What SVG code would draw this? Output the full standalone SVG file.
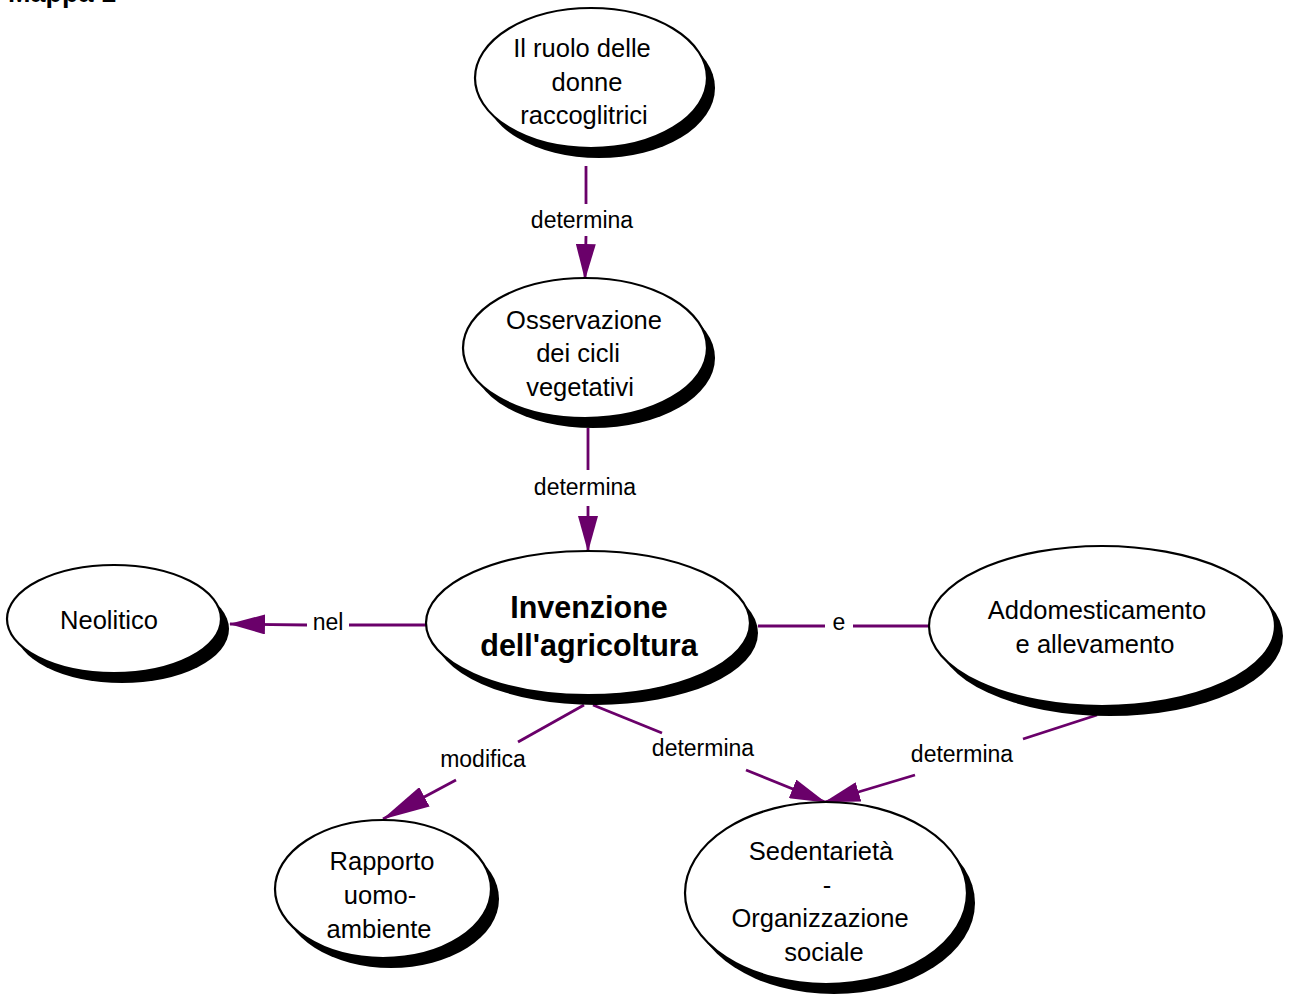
<svg xmlns="http://www.w3.org/2000/svg" width="1289" height="998" viewBox="0 0 1289 998">
<defs>
<style>
.sh{fill:#000}
.nd{fill:#fff;stroke:#000;stroke-width:2.2}
.t{font-family:"Liberation Sans",Arial,sans-serif;font-size:25.5px;fill:#000;text-anchor:middle}
.tb{font-family:"Liberation Sans",Arial,sans-serif;font-size:30.5px;font-weight:bold;fill:#000;text-anchor:middle}
.lb{font-family:"Liberation Sans",Arial,sans-serif;font-size:23px;fill:#000;text-anchor:middle}
.c{stroke:#6a006a;stroke-width:2.8;fill:none}
</style>
<marker id="ah" viewBox="0 0 36 20" refX="35" refY="10" markerWidth="36" markerHeight="20" markerUnits="userSpaceOnUse" orient="auto">
<path d="M0,0 L36,10 L0,20 Z" fill="#6a006a"/>
</marker>
<marker id="ahl" viewBox="0 0 48 22" refX="47" refY="11" markerWidth="48" markerHeight="22" markerUnits="userSpaceOnUse" orient="auto">
<path d="M0,0 L48,11 L0,22 Z" fill="#6a006a"/>
</marker>
</defs>
<rect width="1289" height="998" fill="#fff"/>
<text x="8" y="2" font-family="Liberation Sans, Arial, sans-serif" font-size="27" font-weight="bold">Mappa 1</text>

<g id="connectors">
<line class="c" x1="586" y1="166" x2="586" y2="204"/>
<line class="c" x1="586" y1="236" x2="585" y2="279" marker-end="url(#ah)"/>
<text class="lb" x="582" y="228">determina</text>

<line class="c" x1="588" y1="428" x2="588" y2="470"/>
<line class="c" x1="588" y1="506" x2="588" y2="551" marker-end="url(#ah)"/>
<text class="lb" x="585" y="495">determina</text>

<line class="c" x1="427" y1="625" x2="349" y2="625"/>
<line class="c" x1="307" y1="625" x2="230" y2="624" marker-end="url(#ah)"/>
<text class="lb" x="328" y="630">nel</text>

<line class="c" x1="758" y1="626" x2="825" y2="626"/>
<line class="c" x1="853" y1="626" x2="929" y2="626"/>
<text class="lb" x="839" y="630">e</text>

<line class="c" x1="584" y1="705" x2="518" y2="742"/>
<line class="c" x1="456" y1="780" x2="383" y2="819" marker-end="url(#ahl)"/>
<text class="lb" x="483" y="767">modifica</text>

<line class="c" x1="593" y1="705" x2="662" y2="733"/>
<line class="c" x1="746" y1="770" x2="825" y2="802" marker-end="url(#ah)"/>
<text class="lb" x="703" y="756">determina</text>

<line class="c" x1="1097" y1="715" x2="1023" y2="739"/>
<line class="c" x1="915" y1="775" x2="825" y2="802" marker-end="url(#ah)"/>
<text class="lb" x="962" y="762">determina</text>
</g>

<g id="n-ruolo">
<ellipse class="sh" cx="599" cy="88" rx="116" ry="70"/>
<ellipse class="nd" cx="591" cy="78" rx="116" ry="70"/>
<text class="t" x="582" y="57">Il ruolo delle</text>
<text class="t" x="587" y="90.5">donne</text>
<text class="t" x="584" y="124">raccoglitrici</text>
</g>

<g id="n-osservazione">
<ellipse class="sh" cx="593" cy="358" rx="122" ry="70"/>
<ellipse class="nd" cx="585" cy="348" rx="122" ry="70"/>
<text class="t" x="584" y="329">Osservazione</text>
<text class="t" x="578" y="362">dei cicli</text>
<text class="t" x="580" y="396">vegetativi</text>
</g>

<g id="n-invenzione">
<ellipse class="sh" cx="596" cy="633" rx="162" ry="72"/>
<ellipse class="nd" cx="588" cy="623" rx="162" ry="72"/>
<text class="tb" x="589" y="618">Invenzione</text>
<text class="tb" x="589" y="656">dell'agricoltura</text>
</g>

<g id="n-neolitico">
<ellipse class="sh" cx="122" cy="629" rx="107" ry="54"/>
<ellipse class="nd" cx="114" cy="619" rx="107" ry="54"/>
<text class="t" x="109" y="629">Neolitico</text>
</g>

<g id="n-addomesticamento">
<ellipse class="sh" cx="1110" cy="636" rx="173" ry="80"/>
<ellipse class="nd" cx="1102" cy="626" rx="173" ry="80"/>
<text class="t" x="1097" y="619">Addomesticamento</text>
<text class="t" x="1095" y="653">e allevamento</text>
</g>

<g id="n-rapporto">
<ellipse class="sh" cx="391" cy="899" rx="108" ry="69"/>
<ellipse class="nd" cx="383" cy="889" rx="108" ry="69"/>
<text class="t" x="382" y="870">Rapporto</text>
<text class="t" x="380" y="904">uomo-</text>
<text class="t" x="379" y="938">ambiente</text>
</g>

<g id="n-sedentarieta">
<ellipse class="sh" cx="834" cy="903" rx="141" ry="91"/>
<ellipse class="nd" cx="826" cy="893" rx="141" ry="91"/>
<text class="t" x="821" y="860">Sedentarietà</text>
<text class="t" x="827" y="894">-</text>
<text class="t" x="820" y="927">Organizzazione</text>
<text class="t" x="824" y="961">sociale</text>
</g>
</svg>
